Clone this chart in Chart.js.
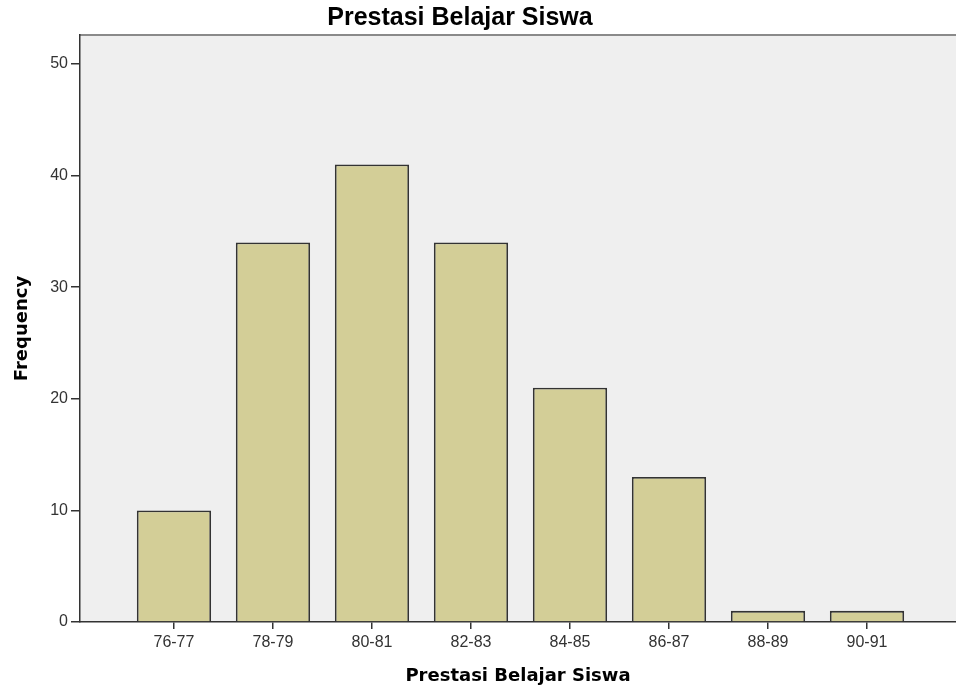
<!DOCTYPE html>
<html>
<head>
<meta charset="utf-8">
<script src="https://cdn.jsdelivr.net/npm/chart.js@4"></script>
<style>
  html, body { margin: 0; padding: 0; background: #fff; }
  #wrap { width: 956px; height: 691px; }
</style>
</head>
<body>
<div id="wrap"><canvas id="chart" width="956" height="691"></canvas></div>
<script>
var categories = ['76-77', '78-79', '80-81', '82-83', '84-85', '86-87', '88-89', '90-91'];
var frequency = [10, 34, 41, 34, 21, 13, 1, 1];
var yTicks = [0, 10, 20, 30, 40, 50];
var chartTitle = 'Prestasi Belajar Siswa';

// plot background and grey top frame, plus the title
var plotFrame = {
    id: 'plotFrame',
    beforeDraw: function(chart) {
        var ctx = chart.ctx;
        var a = chart.chartArea;
        ctx.save();
        ctx.fillStyle = '#efefef';
        ctx.fillRect(a.left, a.top, a.right - a.left, a.bottom - a.top);
        ctx.strokeStyle = '#8a8a8a';
        ctx.lineWidth = 2;
        ctx.beginPath();
        ctx.moveTo(a.left, a.top);
        ctx.lineTo(a.right, a.top);
        ctx.stroke();
        ctx.restore();
    },
    afterDraw: function(chart) {
        var ctx = chart.ctx;
        ctx.save();
        ctx.font = 'bold 25px "Liberation Sans", Arial, sans-serif';
        ctx.fillStyle = '#000';
        ctx.textAlign = 'center';
        ctx.textBaseline = 'middle';
        ctx.fillText(chartTitle, 460, 18);
        ctx.restore();
    }
};

var points = frequency.map(function(v, i) { return { x: i, y: v }; });

new Chart(document.getElementById('chart').getContext('2d'), {
    type: 'bar',
    data: {
        datasets: [{
            label: 'Frequency',
            data: points,
            backgroundColor: '#d3ce97',
            borderColor: '#333333',
            borderWidth: 1.8,
            barPercentage: 0.75,
            categoryPercentage: 1.0
        }]
    },
    options: {
        responsive: false,
        animation: false,
        layout: { padding: { top: 35, right: 0, bottom: 0, left: 0 } },
        plugins: {
            legend: { display: false },
            tooltip: { enabled: false }
        },
        scales: {
            x: {
                type: 'linear',
                offset: false,
                min: -0.949,
                max: 7.899,
                afterBuildTicks: function(scale) {
                    scale.ticks = categories.map(function(c, i) { return { value: i }; });
                },
                afterFit: function(scale) { scale.height = 69; },
                grid: { offset: false, drawOnChartArea: false, drawTicks: true, tickLength: 7, color: '#333', lineWidth: 1.5 },
                border: { display: true, color: '#333', width: 1.5 },
                ticks: {
                    autoSkip: false,
                    maxRotation: 0,
                    padding: 4,
                    color: '#333',
                    font: { family: '"Liberation Sans", Arial, sans-serif', size: 16 },
                    callback: function(value) { return categories[value]; }
                },
                title: {
                    display: true,
                    text: 'Prestasi Belajar Siswa',
                    color: '#000',
                    font: { family: '"DejaVu Sans", sans-serif', size: 18, weight: 'bold' },
                    padding: { top: 0, bottom: 4 }
                }
            },
            y: {
                min: 0,
                max: 52.6,
                afterBuildTicks: function(scale) {
                    scale.ticks = yTicks.map(function(v) { return { value: v }; });
                },
                afterFit: function(scale) { scale.width = 80; },
                grid: { drawOnChartArea: false, drawTicks: true, tickLength: 9, color: '#333', lineWidth: 1.5 },
                border: { display: true, color: '#333', width: 1.5 },
                ticks: {
                    padding: 3,
                    color: '#333',
                    font: { family: '"Liberation Sans", Arial, sans-serif', size: 16 }
                },
                title: {
                    display: true,
                    text: 'Frequency',
                    color: '#000',
                    font: { family: '"DejaVu Sans", sans-serif', size: 18, weight: 'bold' },
                    padding: { top: 12, bottom: 0 }
                }
            }
        }
    },
    plugins: [plotFrame]
});
</script>
</body>
</html>
